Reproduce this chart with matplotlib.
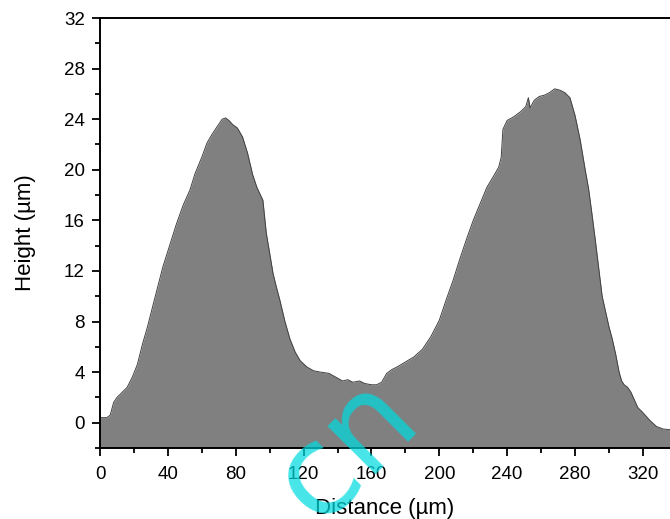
import matplotlib
matplotlib.use("Agg")
import matplotlib.pyplot as plt
from matplotlib.ticker import MultipleLocator

# Data: surface profile
distance = [0, 4, 6, 8, 10, 13, 16, 19, 22, 25, 28, 32, 37, 41, 45, 49, 53, 56,
            60, 63, 66, 68, 70, 72, 74, 76, 78, 81, 84, 87, 90, 92.5, 96, 98,
            100, 102, 104, 106, 109, 112, 115, 118, 122, 126, 130, 135, 139,
            143, 146, 149, 153, 156, 160, 163, 166, 169, 172, 175, 180, 185,
            190, 195, 200, 204, 208, 212, 216, 220, 224, 228, 232, 235, 236.5,
            237.5, 240, 244, 248, 251, 252.5, 253.5, 256, 259, 262, 265, 268,
            271, 274, 277, 280, 283, 286, 288, 290, 292, 294, 296, 298, 300,
            302, 304, 306, 307.5, 309, 311, 313, 315, 317, 320, 324, 328, 332,
            336]
height = [0.4, 0.4, 0.6, 1.6, 2.0, 2.4, 2.8, 3.6, 4.6, 6.2, 7.6, 9.7, 12.3,
          14.0, 15.7, 17.2, 18.4, 19.7, 21.0, 22.1, 22.8, 23.2, 23.6, 24.0,
          24.1, 23.9, 23.6, 23.3, 22.6, 21.3, 19.6, 18.6, 17.6, 15.0, 13.4,
          11.8, 10.7, 9.7, 8.0, 6.6, 5.6, 4.9, 4.4, 4.1, 4.0, 3.9, 3.6, 3.3,
          3.4, 3.2, 3.3, 3.1, 3.0, 3.0, 3.2, 3.9, 4.2, 4.4, 4.8, 5.2, 5.8, 6.8,
          8.1, 9.7, 11.2, 12.9, 14.5, 16.0, 17.3, 18.6, 19.5, 20.2, 21.0, 23.2,
          23.9, 24.2, 24.6, 25.0, 25.7, 24.9, 25.5, 25.8, 25.9, 26.1, 26.4,
          26.3, 26.1, 25.7, 24.3, 22.4, 20.0, 18.5, 16.5, 14.4, 12.2, 10.0,
          8.8, 7.6, 6.6, 5.4, 4.0, 3.3, 3.0, 2.8, 2.4, 1.8, 1.2, 0.8, 0.2,
          -0.3, -0.5, -0.55]

plt.rcParams['font.family'] = ['Liberation Sans', 'DejaVu Sans']

fig = plt.figure(figsize=(6.7, 5.19), dpi=100)
ax = fig.add_axes([0.1493, 0.1368, 0.8507, 0.8285])

# Filled profile
ax.fill_between(distance, height, -2, color='#808080', lw=0)
ax.plot(distance, height, color='#404040', lw=0.7)

ax.set_xlim(0, 336)
ax.set_ylim(-2, 32)

# Ticks
ax.xaxis.set_major_locator(MultipleLocator(40))
ax.xaxis.set_minor_locator(MultipleLocator(20))
ax.yaxis.set_major_locator(MultipleLocator(4))
ax.yaxis.set_minor_locator(MultipleLocator(2))
ax.tick_params(which='major', direction='out', length=6, width=1.3,
               labelsize=13.5, pad=5)
ax.tick_params(which='minor', direction='out', length=3.5, width=1.3)
ax.tick_params(axis='x', pad=7)

for side in ['left', 'bottom', 'top']:
    ax.spines[side].set_linewidth(1.4)
ax.spines['right'].set_visible(False)

# Labels
ax.set_xlabel("Distance (\u00b5m)", fontsize=16, labelpad=11)
ax.set_ylabel("Height (\u00b5m)", fontsize=16, labelpad=20)

# Watermark
fig.text(0.474, -0.012, "cn", rotation=45, rotation_mode='anchor',
         ha='left', va='baseline', fontsize=90,
         color=(0.0, 0.86, 0.88), alpha=0.72, family='DejaVu Sans')

fig.savefig("out.png", dpi=100)
